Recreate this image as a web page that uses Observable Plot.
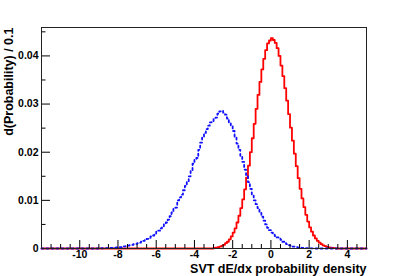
<!DOCTYPE html>
<html><head><meta charset="utf-8">
<script src="https://cdn.jsdelivr.net/npm/d3@7"></script>
<script src="https://cdn.jsdelivr.net/npm/@observablehq/plot@0.6"></script>
<style>
html,body{margin:0;padding:0;background:#fff;}
</style>
</head><body><div id="chart"></div>
<script>
// Histogram binning (bin width 0.1 over the full axis range)
const binWidth = 0.1;
const xMin = -12, xMax = 5;

// Red (solid) histogram: values per bin, first bin left edge = redStart
const redStart = -3.0;
const redValues = [
  0.00013,0.00019,0.00028,0.00039,0.00055,0.00077,0.0011,0.0014,0.0019,0.0025,
  0.0033,0.0042,0.0054,0.0068,0.0084,0.0102,0.0123,0.0147,0.0172,0.0200,
  0.0229,0.0259,0.0290,0.0319,0.0346,0.0372,0.0394,0.0412,0.0426,0.0432,
  0.0437,0.0433,0.0427,0.0416,0.0400,0.0380,0.0358,0.0333,0.0307,0.0279,
  0.0251,0.0224,0.0197,0.0171,0.0146,0.0124,0.0104,0.0086,0.0070,0.0056,
  0.0044,0.0035,0.0027,0.0021,0.0016,0.0012,0.0009,0.00066,0.00048,0.00034,
  0.00024,0.00016,0.0001,0.00006
];

// Blue (dotted) histogram: values per bin, first bin left edge = blueStart
const blueStart = -9.0;
const blueValues = [
  0.00003,0.00005,0.00004,0.00008,0.00006,0.0001,0.00012,0.00015,0.0002,0.00022,
  0.0003,0.00028,0.0004,0.00045,0.0005,0.0006,0.0007,0.00075,0.0009,0.00095,
  0.0011,0.0012,0.0014,0.0016,0.0018,0.0020,0.0022,0.0025,0.0027,0.0031,
  0.0035,0.0037,0.0042,0.0046,0.0050,0.0054,0.0060,0.0067,0.0075,0.0083,
  0.0085,0.0100,0.0106,0.0112,0.0121,0.0130,0.0138,0.0150,0.0162,0.0176,
  0.0186,0.0188,0.0205,0.0220,0.0232,0.0240,0.0248,0.0255,0.0262,0.0264,
  0.0270,0.0272,0.0280,0.0285,0.0286,0.0282,0.0278,0.0270,0.0262,0.0255,
  0.0244,0.0232,0.0218,0.0205,0.0192,0.0180,0.0164,0.0152,0.0138,0.0124,
  0.0110,0.0100,0.0092,0.0084,0.0074,0.0066,0.0058,0.0050,0.0043,0.0038,
  0.0033,0.0029,0.0026,0.0023,0.0021,0.0018,0.0014,0.0011,0.0009,0.0007,
  0.0006,0.0004,0.0004,0.0003,0.0002,0.0002,0.00015,0.0001,0.00008,0.00006,
  0.00005,0.00003,0.00002
];

// Axis ticks and labels
const xMajorTicks = [-10, -8, -6, -4, -2, 0, 2, 4];
const xTickLabels = ["-10", "-8", "-6", "-4", "-2", "0", "2", "4"];
const yMajorTicks = [0, 0.01, 0.02, 0.03, 0.04];
const yTickLabels = ["0", "0.01", "0.02", "0.03", "0.04"];
const xTitle = "SVT dE/dx probability density";
const yTitle = "d(Probability) / 0.1";

// Build step table over the full range (empty bins = 0)
function steps(start, values) {
  const nb = Math.round((xMax - xMin) / binWidth);
  const pts = [];
  for (let i = 0; i < nb; i++) {
    const x0 = Math.round((xMin + i * binWidth) * 10) / 10;
    const j = Math.round((x0 - start) / binWidth);
    pts.push({x: x0, y: (j >= 0 && j < values.length) ? values[j] : 0});
  }
  pts.push({x: xMax, y: pts[pts.length - 1].y});
  return pts;
}
const redPts = steps(redStart, redValues);
const bluePts = steps(blueStart, blueValues);

const xMinor = d3.range(-12, 5.001, 0.5).filter(v => !xMajorTicks.includes(v));
const yMinor = [0.005, 0.015, 0.025, 0.035, 0.045];

const W = 407, H = 276;
const mL = 41, mR = 41, mT = 27, mB = 28;
const fw = W - mL - mR, fh = H - mT - mB;
const font = "'Liberation Sans', Arial, Helvetica, sans-serif";

const chart = Plot.plot({
  width: W, height: H,
  marginLeft: mL, marginRight: mR, marginTop: mT, marginBottom: mB,
  style: {fontFamily: font, fontWeight: "bold", fontSize: "10.5px", background: "#fff", color: "#000"},
  x: {domain: [xMin, xMax], label: null},
  y: {domain: [0, 0.0459], label: null},
  marks: [
    Plot.line(redPts, {x: "x", y: "y", curve: "step-after", stroke: "#ff0000", strokeWidth: 1.8}),
    Plot.line(bluePts, {x: "x", y: "y", curve: "step-after", stroke: "#1010ff", strokeWidth: 1.8, strokeDasharray: "2,3"}),
    // inward ticks
    Plot.tickX(xMajorTicks, {x: d => d, insetTop: fh - 8, stroke: "#000", strokeWidth: 1}),
    Plot.tickX(xMinor, {x: d => d, insetTop: fh - 4, stroke: "#000", strokeWidth: 1}),
    Plot.tickY(yMajorTicks, {y: d => d, insetRight: fw - 9, stroke: "#000", strokeWidth: 1}),
    Plot.tickY(yMinor, {y: d => d, insetRight: fw - 4.5, stroke: "#000", strokeWidth: 1}),
    Plot.axisX(xMajorTicks, {tickSize: 0, tickPadding: 2, tickFormat: d => xTickLabels[xMajorTicks.indexOf(d)], fontSize: 10.5, fontWeight: "bold"}),
    Plot.axisY(yMajorTicks, {tickSize: 0, tickPadding: 3, tickFormat: d => yTickLabels[yMajorTicks.indexOf(d)], fontSize: 10.5, fontWeight: "bold"}),
    Plot.frame({stroke: "#222", strokeWidth: 1}),
    Plot.text([xTitle], {frameAnchor: "bottom-right", dy: 20, lineAnchor: "middle", textAnchor: "end", fontSize: 12.5, fontWeight: "bold"}),
    Plot.text([yTitle], {frameAnchor: "top-left", dx: -33, rotate: -90, lineAnchor: "middle", textAnchor: "end", fontSize: 12.5, fontWeight: "bold"})
  ]
});
document.getElementById("chart").appendChild(chart);
</script>
</body></html>
